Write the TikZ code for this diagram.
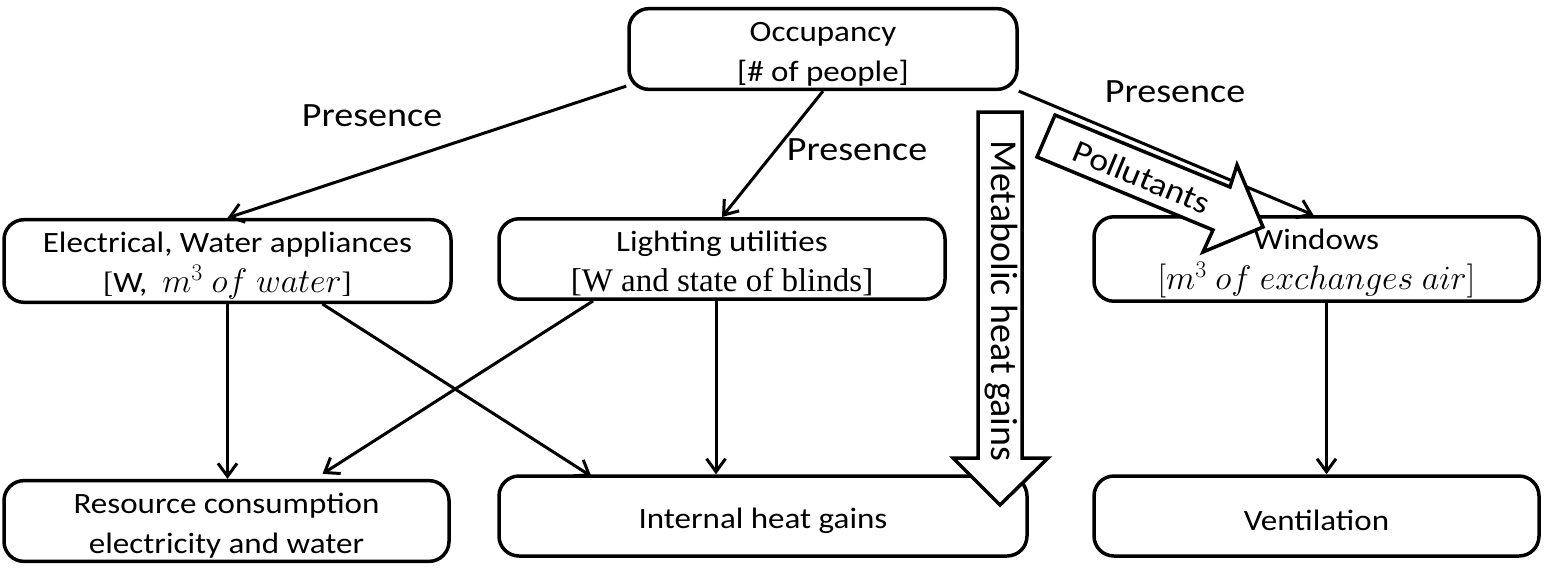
\RequirePackage{fix-cm}
\documentclass[tikz,border=0pt]{standalone}
\usepackage{fontspec}
\newfontfamily\calibri[FakeStretch=1.12]{Carlito}
\newfontfamily\calibriN{Carlito}
\newfontfamily\serifcam{Liberation Serif}
\newcommand\bxstrut{\rule{0pt}{30pt}}
\newcommand\bigmath[1]{{\fontsize{34}{40}\selectfont$#1$}}
\usetikzlibrary{arrows.meta,calc}
\begin{document}
\begin{tikzpicture}[x=1pt,y=-1pt,
  box/.style={draw, line width=3.5pt, rounded corners=20pt, minimum height=80pt,
    inner sep=3pt, align=center, font=\calibri\fontsize{29.5}{40}\selectfont},
  conn/.style={line width=3pt, -{Straight Barb[length=13pt,width=19pt]}},
  lbl/.style={font=\calibri\fontsize{34}{40}\selectfont, inner sep=0pt},
  bigarrow/.style={draw, fill=white, line width=3.5pt, line join=miter},
  arrowtext/.style={inner sep=0pt}]
\useasboundingbox (0,0) rectangle (1544,582);

% boxes
\node[box, minimum width=388] (occ) at (823,49) {\bxstrut Occupancy\\ {[}\# of people{]}};
\node[box, minimum width=447] (elec) at (227.5,261) {\bxstrut Electrical, Water appliances\\ {\serifcam[}W,\ \ \bigmath{m^3\ of\ water}{\serifcam]}};
\node[box, minimum width=446] (light) at (722,259) {\bxstrut Lighting utilities\\ {\serifcam\fontsize{33}{40}\selectfont [W and state of blinds]}};
\node[box, minimum width=445] (win) at (1316.5,259) {\bxstrut Windows\\ \bigmath{[m^3\ of\ exchanges\ air]}};
\node[box, minimum width=445] (res) at (226.5,521) {\bxstrut Resource consumption\\ electricity and water};
\node[box, minimum width=528] (int) at (763,516) {\bxstrut Internal heat gains};
\node[box, minimum width=445] (vent) at (1316.5,516) {\bxstrut Ventilation};

% connectors
\draw[conn] ($(occ.south west)+(-1,-5)$) -- (elec.north);
\draw[conn] (occ.south) -- (light.north);
\draw[conn] (occ.south east) -- ($(win.north)+(-3,0)$);
\draw[conn] (elec.south) -- (elec.south |- res.north);
\draw[conn] ($(elec.south)+(95,0)$) -- ($(int.north west)+(94,2)$);
\draw[conn] ($(light.south)+(-129,0)$) -- ($(res.north)+(96,-5)$);
\draw[conn] ($(light.south)+(-6,0)$) -- ($(int.north)+(-47,0)$);
\draw[conn] ($(win.south)+(10,0)$) -- ($(vent.north)+(10,0)$);

% labels
\node[lbl] (p1) at (372,116) {Presence};
\node[lbl] (p2) at (857,150) {Presence};
\node[lbl] (p3) at (1175,92) {Presence};

% big arrows
\draw[bigarrow] (978,112) -- (1022,112) -- (1022,458) -- (1048,458) -- (1000,505)
  -- (953,458) -- (978,458) -- cycle;
\node[arrowtext, rotate=-90, font=\calibriN\fontsize{38}{40}\selectfont] (met) at (1001,301) {Metabolic heat gains};
\draw[bigarrow] (1055,115) -- (1230,187) -- (1237,165) -- (1263,227) -- (1203,252)
  -- (1213,230) -- (1037,157) -- cycle;
\node[arrowtext, rotate=-22.5, font=\calibri\fontsize{32}{40}\selectfont] (pol) at (1142,177) {Pollutants};
\end{tikzpicture}
\end{document}
